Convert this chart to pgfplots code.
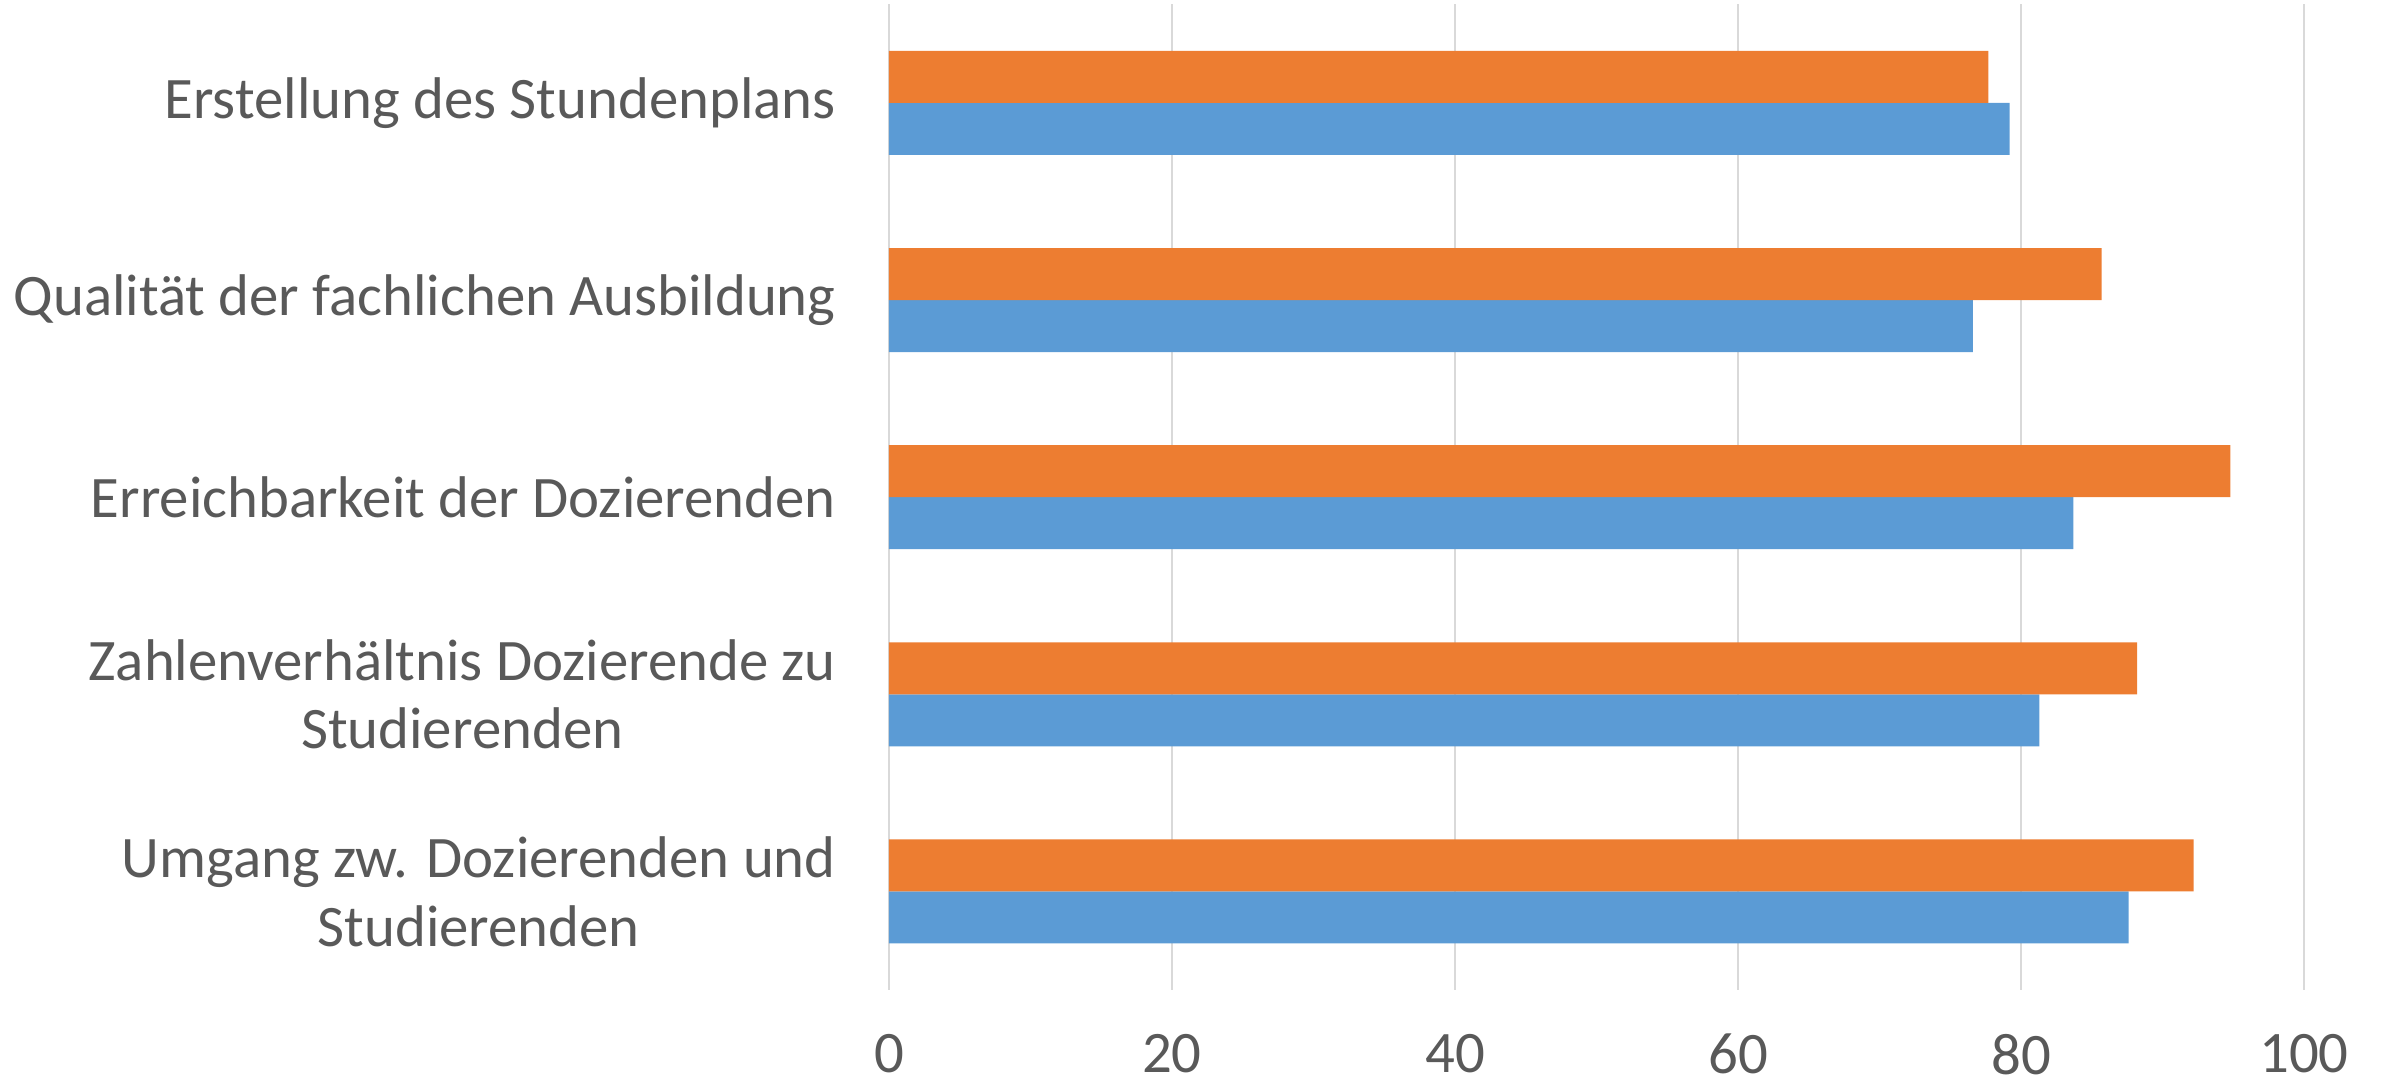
\documentclass[border=0pt]{standalone}
\usepackage{fontspec}
\setmainfont{Carlito}
\usepackage{pgfplots}
\pgfplotsset{compat=1.18}
\definecolor{barblue}{HTML}{5B9BD5}
\definecolor{barorange}{HTML}{ED7D31}
\definecolor{txtgray}{HTML}{595959}
\definecolor{gridgray}{HTML}{D9D9D9}

\begin{document}
\begin{tikzpicture}
	% fixed page frame, plot area lower left at origin
	\path[use as bounding box] (-222.25pt,-24.5pt) rectangle (374.5pt,247.5pt);
	\begin{axis}[
		at={(0,0)}, anchor=south west,
		scale only axis,
		width=353.75pt, height=246.4pt,
		xbar=0pt, bar width=13pt,
		xmin=0, xmax=100,
		ymin=-0.5, ymax=4.5,
		xtick={0,20,...,100},
		ytick={0,1,2,3,4},
		yticklabels={Umgang zw. Dozierenden und\\Studierenden,
			Zahlenverhältnis Dozierende zu\\Studierenden,
			Erreichbarkeit der Dozierenden,
			Qualität der fachlichen Ausbildung,
			Erstellung des Stundenplans},
		axis line style={draw=none},
		tick style={draw=none},
		xmajorgrids,
		grid style={gridgray, line width=0.5pt},
		/pgf/number format/assume math mode=true,
		ticklabel style={font=\fontsize{14.7}{17.2}\selectfont, text=txtgray},
		xticklabel style={yshift=-7.5pt},
		yticklabel style={align=center, xshift=-5.5pt},
		]
		
		\addplot[fill=barblue, draw=none] coordinates
		{(87.6,0) (81.3,1) (83.7,2) (76.6,3) (79.2,4)};
		
		\addplot[fill=barorange, draw=none] coordinates
		{(92.2,0) (88.2,1) (94.8,2) (85.7,3) (77.7,4)};
		
	\end{axis}
\end{tikzpicture}
\end{document}
